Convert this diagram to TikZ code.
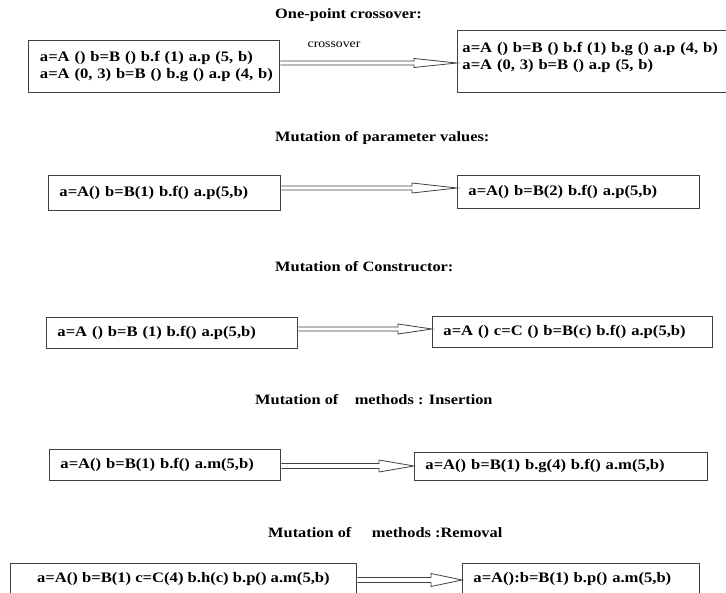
\documentclass[tikz,border=0pt]{standalone}
\usepackage{fontspec}
\setmainfont{Liberation Serif}[FakeStretch=1.145]
\usetikzlibrary{calc}

% hollow block arrow between two boxes: from, to, y, head length, shaft half width, head half width
\newcommand\hollowarrow[6]{%
  \draw[arrowline] let \p1=(#1.east), \p2=(#2.west), \p3=(0,#3) in
    (\x1+0.5pt,\y3+#5pt) -- (\x2-#4pt,\y3+#5pt) -- (\x2-#4pt,\y3+#6pt) -- (\x2,\y3)
    -- (\x2-#4pt,\y3-#6pt) -- (\x2-#4pt,\y3-#5pt) -- (\x1+0.5pt,\y3-#5pt);}

\begin{document}
\begin{tikzpicture}[x=1pt,y=-1pt,
  codebox/.style={draw=black!75, line width=0.9pt, anchor=north west, align=left,
    inner xsep=11pt, inner ysep=2pt,
    font=\fontsize{14.5}{17}\selectfont\bfseries},
  heading/.style={anchor=west, inner sep=0pt, font=\fontsize{14.3}{17}\selectfont\bfseries},
  tag/.style={inner sep=0pt, font=\fontsize{12}{14}\selectfont},
  arrowline/.style={draw=black!75, fill=white, line width=0.8pt, line join=miter}]
\useasboundingbox (0,0) rectangle (726,593);
\fill[white] (0,0) rectangle (726,593);

% one-point crossover (both lines set to the same justified width)
\node[heading] (t1) at (275,15) {One-point crossover:};
\node[codebox, text width=228pt, minimum height=52pt, inner xsep=11.5pt] (b1) at (28,40)
  {\makebox[228pt][s]{a=A () b=B () b.f (1) a.p (5, b)}\\
   \makebox[228pt][s]{a=A (0, 3) b=B () b.g () a.p (4, b)}};
\node[codebox, text width=261pt, minimum height=62pt, inner xsep=5pt] (b2) at (457,30)
  {a=A () b=B () b.f (1) b.g () a.p (4, b)\\a=A (0, 3) b=B () a.p (5, b)\rule[-11pt]{0pt}{11pt}};
\node[tag] (l1) at (334,45) {crossover};
\hollowarrow{b1}{b2}{63}{43}{2}{4.5}

% parameter values
\node[heading] (t2) at (275,138) {Mutation of parameter values:};
\node[codebox, text width=210pt, minimum height=35pt] (b3) at (48,175)
  {a=A() b=B(1) b.f() a.p(5,b)};
\node[codebox, text width=220pt, minimum height=33pt] (b4) at (457,175)
  {a=A() b=B(2) b.f() a.p(5,b)};
\hollowarrow{b3}{b4}{188}{45}{2}{5}

% constructor
\node[heading] (t3) at (275,267) {Mutation of Constructor:};
\node[codebox, text width=229pt, minimum height=31pt] (b5) at (46,317)
  {a=A () b=B (1) b.f() a.p(5,b)};
\node[codebox, text width=258pt, minimum height=31pt] (b6) at (432,316)
  {a=A () c=C () b=B(c) b.f() a.p(5,b)};
\hollowarrow{b5}{b6}{329}{34}{2}{5}

% methods: insertion
\node[heading] (t4) at (255,400) {Mutation of~~~~methods : Insertion};
\node[codebox, text width=209pt, minimum height=31pt] (b7) at (49,449)
  {a=A() b=B(1) b.f() a.m(5,b)};
\node[codebox, text width=271pt, minimum height=28pt] (b8) at (414,452)
  {a=A() b=B(1) b.g(4) b.f() a.m(5,b)};
\hollowarrow{b7}{b8}{466}{35}{2.5}{6}

% methods: removal
\node[heading] (t5) at (268,533) {Mutation of~~~~~methods :Removal};
\node[codebox, align=center, minimum width=346pt, minimum height=31pt] (b9) at (10,563)
  {a=A() b=B(1) c=C(4) b.h(c) b.p() a.m(5,b)};
\node[codebox, text width=215pt, minimum height=31pt] (b10) at (462,563)
  {a=A():b=B(1) b.p() a.m(5,b)};
\hollowarrow{b9}{b10}{580}{31}{2.5}{6.5}
\end{tikzpicture}
\end{document}
